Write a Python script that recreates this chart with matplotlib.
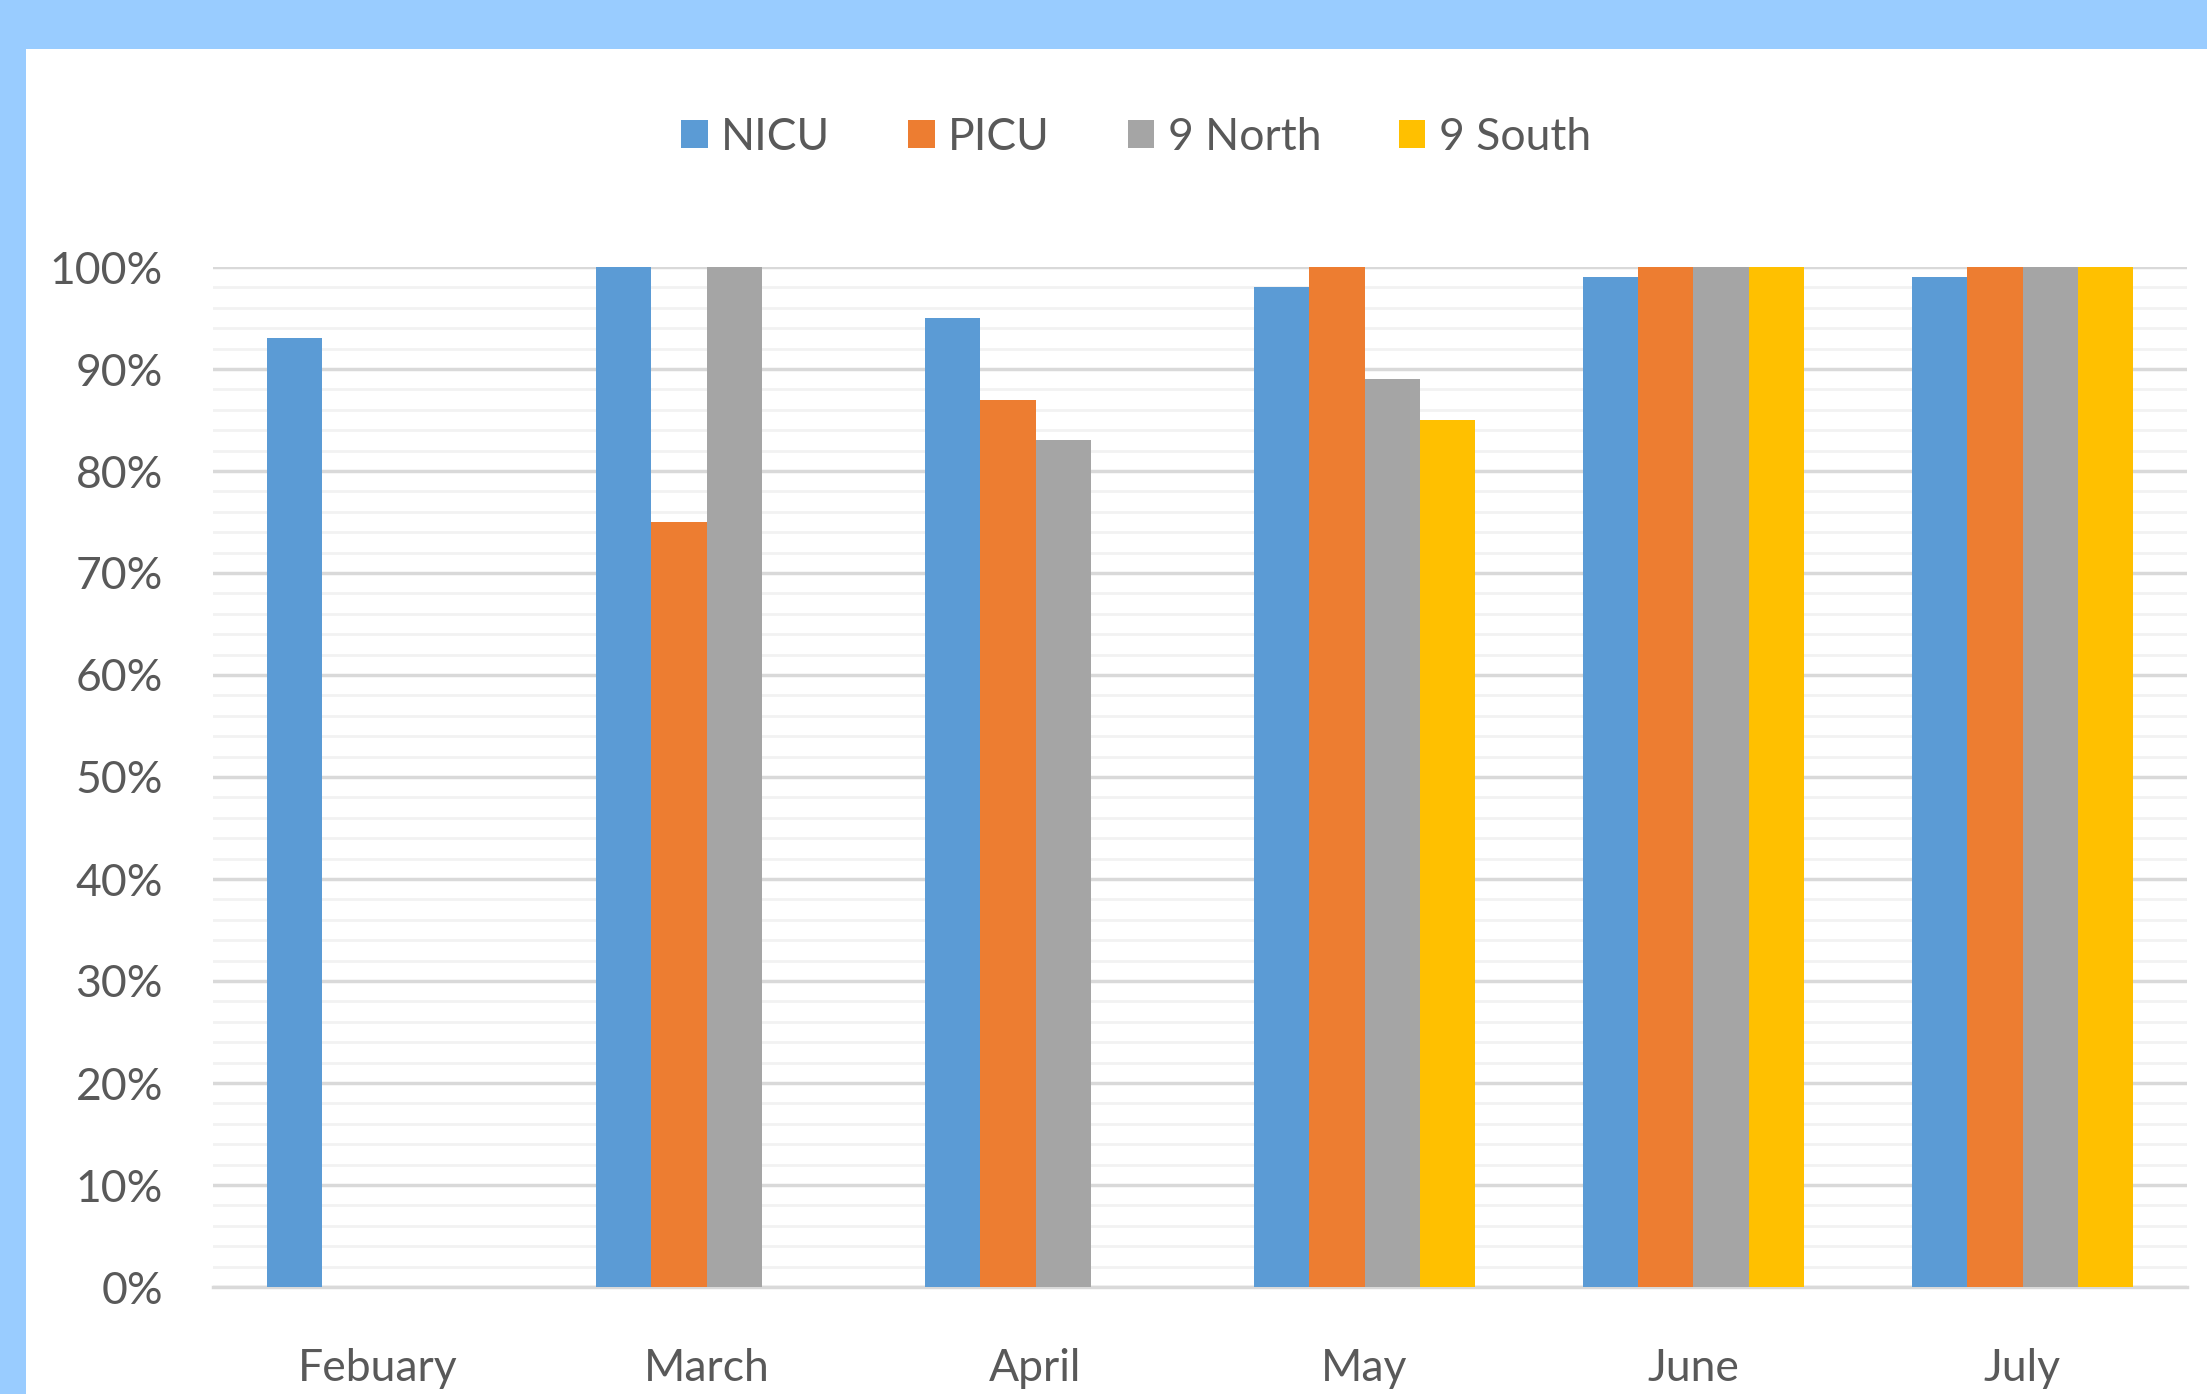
import numpy as np
import matplotlib
matplotlib.use("Agg")
import matplotlib.pyplot as plt
from matplotlib.patches import Rectangle
from matplotlib.ticker import MultipleLocator, PercentFormatter

months = ["Febuary", "March", "April", "May", "June", "July"]
units = ["NICU", "PICU", "9 North", "9 South"]
nicu = [0.93, 1.00, 0.95, 0.98, 0.99, 0.99]
picu = [np.nan, 0.75, 0.87, 1.00, 1.00, 1.00]
north9 = [np.nan, 1.00, 0.83, 0.89, 1.00, 1.00]
south9 = [np.nan, np.nan, np.nan, 0.85, 1.00, 1.00]
colors = ["#5B9BD5", "#ED7D31", "#A5A5A5", "#FFC000"]

plt.rcParams['font.family'] = ['Lato', 'DejaVu Sans']
text_col = "#595959"

fig = plt.figure(figsize=(22.07, 13.94), dpi=100)
fig.patch.set_facecolor("white")
# light blue frame of the slide (top band and left band)
fig.patches.append(Rectangle((0, 1 - 49 / 1394), 1, 49 / 1394, transform=fig.transFigure,
                             facecolor="#99CCFF", edgecolor="none", zorder=0))
fig.patches.append(Rectangle((0, 0), 26 / 2207, 1, transform=fig.transFigure,
                             facecolor="#99CCFF", edgecolor="none", zorder=0))

ax = fig.add_axes([213 / 2207, 1 - 1287 / 1394, (2187 - 213) / 2207, (1287 - 267) / 1394])

x = np.arange(len(months))
w = 0.168
handles = []
for i, (vals, name) in enumerate(zip([nicu, picu, north9, south9], units)):
    b = ax.bar(x + (i - 1.5) * w, vals, width=w, color=colors[i], label=name, zorder=3)
    handles.append(b)

ax.set_xlim(-0.5, len(months) - 0.5)
ax.set_ylim(0, 1.0)
ax.yaxis.set_major_locator(MultipleLocator(0.1))
ax.yaxis.set_minor_locator(MultipleLocator(0.02))
ax.yaxis.set_major_formatter(PercentFormatter(1.0, decimals=0))
ax.grid(axis="y", which="major", color="#D9D9D9", linewidth=2.5, zorder=0)
ax.grid(axis="y", which="minor", color="#F2F2F2", linewidth=2.0, zorder=0)
ax.set_axisbelow(True)

ax.set_xticks(x)
ax.set_xticklabels(months)
ax.tick_params(axis="both", which="both", length=0, labelsize=32, colors=text_col)
ax.tick_params(axis="y", pad=36)
ax.tick_params(axis="x", pad=44)

for s in ["top", "right", "left"]:
    ax.spines[s].set_visible(False)
ax.spines["bottom"].set_color("#D9D9D9")
ax.spines["bottom"].set_linewidth(2.5)

leg = fig.legend(handles=handles, labels=units, loc="center", bbox_to_anchor=(1136 / 2207, 1 - 137 / 1394),
                 ncol=4, frameon=False, fontsize=32, handlelength=0.6, handleheight=0.6,
                 handletextpad=0.3, columnspacing=1.75)
for t in leg.get_texts():
    t.set_color(text_col)

fig.savefig("out.png", dpi=100)
